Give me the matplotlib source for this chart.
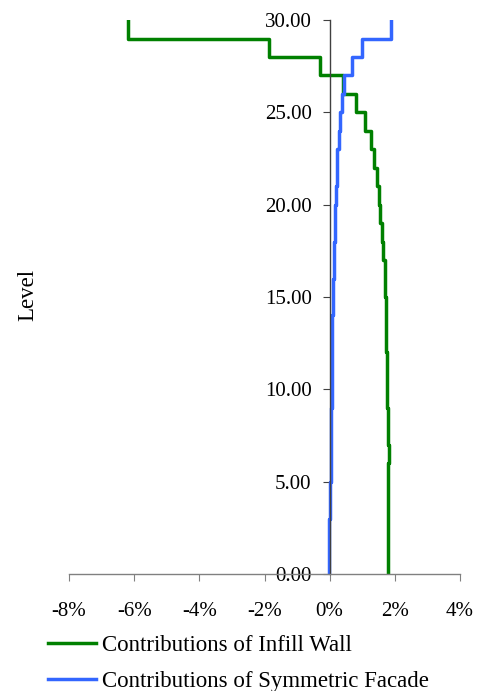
import numpy as np
import matplotlib.pyplot as plt
from matplotlib.ticker import FuncFormatter, FormatStrFormatter

# story levels (each contribution holds from level i to level i+1)
levels = list(range(0, 31))

# contribution in % per story, bottom to top
infill_wall = [1.80, 1.79, 1.80, 1.80, 1.79, 1.80, 1.81, 1.79, 1.78, 1.77,
               1.76, 1.75, 1.74, 1.73, 1.72, 1.71, 1.69, 1.64, 1.60, 1.55,
               1.50, 1.45, 1.37, 1.27, 1.10, 0.80, 0.42, -0.30, -1.85, -6.20]
sym_facade = [-0.02, -0.02, -0.02, 0.00, 0.02, 0.03, 0.04, 0.04, 0.05, 0.06,
              0.06, 0.07, 0.08, 0.08, 0.09, 0.10, 0.12, 0.13, 0.15, 0.16,
              0.18, 0.21, 0.24, 0.28, 0.32, 0.38, 0.45, 0.68, 1.00, 1.88]

x_ticks = [-8, -6, -4, -2, 0, 2, 4]
y_ticks = [0, 5, 10, 15, 20, 25, 30]


def step_profile(vals):
    xs, ys = [], []
    for i, v in enumerate(vals):
        xs += [v / 100.0, v / 100.0]
        ys += [levels[i], levels[i + 1]]
    return xs, ys


plt.rcParams['font.family'] = ['Liberation Serif', 'DejaVu Serif']

fig = plt.figure(figsize=(4.81, 6.91), dpi=100)
ax = fig.add_axes([0.1435, 0.1693, 0.8128, 0.8017])

gx, gy = step_profile(infill_wall)
bx, by = step_profile(sym_facade)
ax.plot(gx, gy, color='#008000', lw=2.5, label='Contributions of Infill Wall')
ax.plot(bx, by, color='#3366FF', lw=2.5, label='Contributions of Symmetric Facade')

ax.set_xlim(-0.08, 0.04)
ax.set_ylim(0, 30)
ax.set_xticks([t / 100.0 for t in x_ticks])
ax.set_yticks(y_ticks)
ax.xaxis.set_major_formatter(FuncFormatter(lambda v, p: f"{v * 100:.0f}%"))
ax.yaxis.set_major_formatter(FormatStrFormatter('%.2f'))

for s in ['top', 'right']:
    ax.spines[s].set_visible(False)
ax.spines['left'].set_position(('data', 0))
ax.spines['left'].set_color('#404040')
ax.spines['bottom'].set_color('#808080')
ax.spines['left'].set_linewidth(1.0)
ax.spines['bottom'].set_linewidth(1.0)

ax.tick_params(axis='x', direction='out', length=5, color='#808080', pad=15, labelsize=15)
ax.tick_params(axis='y', direction='out', length=5, color='#404040', pad=8, labelsize=15)

fig.text(0.058, 0.573, 'Level', rotation=90, ha='center', va='center', fontsize=16.5)

fig.legend(loc='upper left', bbox_to_anchor=(0.100, 1 - 635 / 691), frameon=False,
           fontsize=16.5, handlelength=2.1, handletextpad=0.25, labelspacing=0.65,
           borderpad=0, borderaxespad=0)

fig.savefig('out.png', dpi=100)
